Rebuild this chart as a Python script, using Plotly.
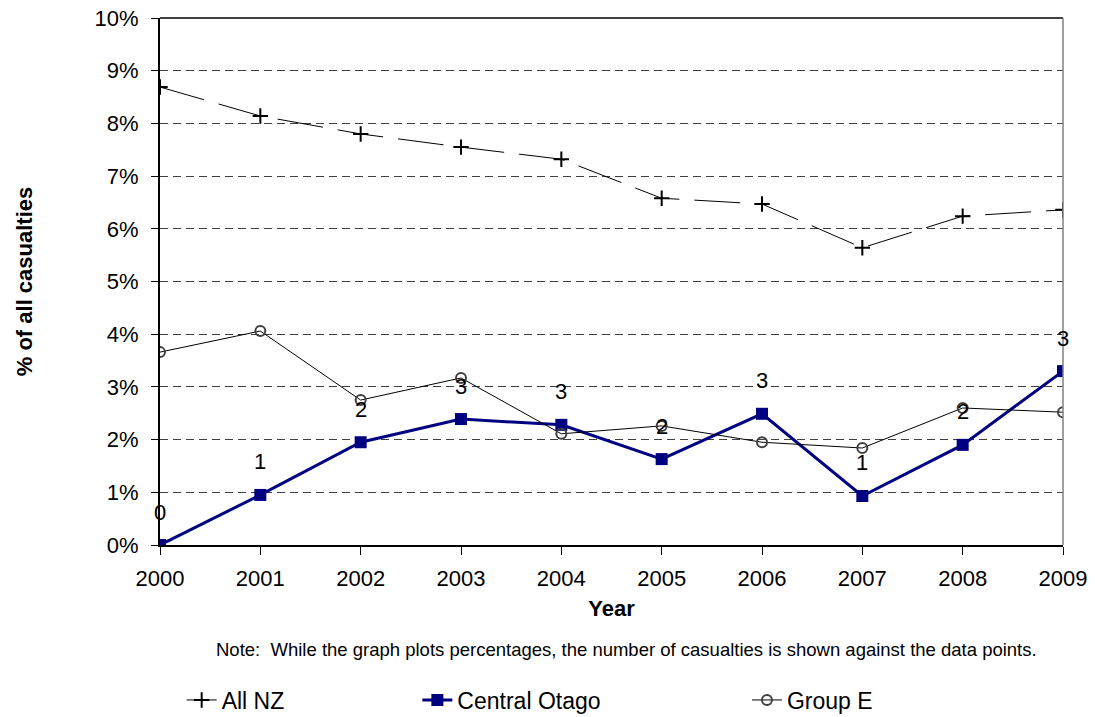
import plotly.graph_objects as go

years = [2000, 2001, 2002, 2003, 2004, 2005, 2006, 2007, 2008, 2009]
all_nz = [8.69, 8.14, 7.80, 7.55, 7.32, 6.58, 6.47, 5.64, 6.24, 6.36]
central_otago = [0.0, 0.95, 1.95, 2.39, 2.28, 1.63, 2.49, 0.93, 1.90, 3.30]
group_e = [3.66, 4.06, 2.75, 3.17, 2.11, 2.26, 1.95, 1.84, 2.60, 2.52]
co_counts = [0, 1, 2, 3, 3, 2, 3, 1, 2, 3]
y_ticks = list(range(0, 11))
y_tick_labels = [f"{v}%" for v in y_ticks]

FONT = "Liberation Sans, Arial, sans-serif"

fig = go.Figure()
fig.add_trace(go.Scatter(
    x=years, y=all_nz, name="All NZ", mode="lines+markers", legend="legend",
    line=dict(color="black", width=1, dash="46px,15px"),
    marker=dict(symbol="cross-thin", size=11, line=dict(color="black", width=2)),
))
fig.add_trace(go.Scatter(
    x=years, y=central_otago, name="Central Otago", mode="lines+markers", legend="legend2",
    line=dict(color="#000080", width=3),
    marker=dict(symbol="square", size=12, color="#000080"),
))
fig.add_trace(go.Scatter(
    x=years, y=group_e, name="Group E", mode="lines+markers", legend="legend3",
    line=dict(color="black", width=1),
    marker=dict(symbol="circle-open", size=10, color="#404040", line=dict(width=2)),
))

for yr, v, c in zip(years, central_otago, co_counts):
    fig.add_annotation(x=yr, y=v, text=str(c), showarrow=False, yshift=33,
                       font=dict(family=FONT, size=22, color="black"))

fig.add_annotation(xref="paper", yref="paper", x=0.517, y=-0.199, yanchor="middle",
                   text="Note:  While the graph plots percentages, the number of casualties is shown against the data points.",
                   showarrow=False, font=dict(family=FONT, size=18.5, color="black"))

# plot area border: top black, right gray
fig.add_shape(type="line", xref="paper", yref="paper", x0=0, x1=1, y0=1, y1=1,
              line=dict(color="black", width=1.5))
fig.add_shape(type="line", xref="paper", yref="paper", x0=1, x1=1, y0=0, y1=1,
              line=dict(color="#808080", width=1.5))

leg_common = dict(orientation="h", yref="container", y=1 - 700 / 717, yanchor="middle",
                  xanchor="left", font=dict(family=FONT, size=23, color="black"),
                  bgcolor="rgba(0,0,0,0)")

fig.update_layout(
    width=1095, height=717,
    margin=dict(l=160, r=32, t=18, b=172),
    paper_bgcolor="white", plot_bgcolor="white",
    font=dict(family=FONT, size=22, color="black"),
    showlegend=True,
    legend=dict(x=0.024, **leg_common),
    legend2=dict(x=0.285, **leg_common),
    legend3=dict(x=0.650, **leg_common),
    xaxis=dict(
        range=[2000, 2009], tickmode="array", tickvals=years,
        ticktext=[str(y) for y in years], tickfont=dict(size=22),
        showgrid=False, zeroline=False, showline=True, linecolor="black", linewidth=2,
        ticks="outside", ticklen=8, tickcolor="black", ticklabelstandoff=5,
        automargin=False,
        title=dict(text="<b>Year</b>", standoff=10, font=dict(size=22)),
    ),
    yaxis=dict(
        range=[0, 10], tickmode="array", tickvals=y_ticks, ticktext=y_tick_labels,
        tickfont=dict(size=22),
        showgrid=True, gridcolor="#404040", griddash="8px,5px", gridwidth=1,
        zeroline=False, showline=True, linecolor="black", linewidth=2,
        ticks="outside", ticklen=7, tickcolor="black", ticklabelstandoff=8,
        automargin=False,
        title=dict(text="<b>% of all casualties</b>", standoff=56, font=dict(size=22)),
    ),
)

fig.write_html("out.html", config={"displayModeBar": False},
               post_script="document.body.style.margin='0px';")
